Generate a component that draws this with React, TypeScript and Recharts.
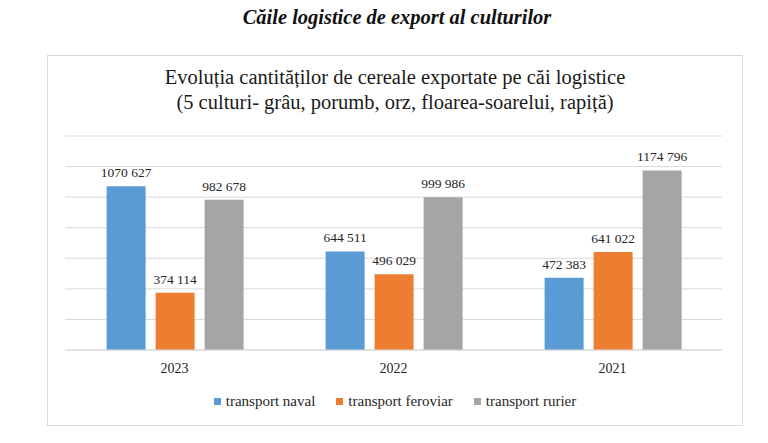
import { BarChart, Bar, XAxis, YAxis, CartesianGrid, Legend, LabelList } from 'recharts'

const years = ['2023', '2022', '2021']
const navalValues = [1070627, 644511, 472383]
const feroviarValues = [374114, 496029, 641022]
const rurierValues = [982678, 999986, 1174796]
const yTicks = [0, 200000, 400000, 600000, 800000, 1000000, 1200000, 1400000]
const seriesOrder = ['transport naval', 'transport feroviar', 'transport rurier']

const serif = '"Liberation Serif", "Times New Roman", serif'

const chartData = years.map((year, i) => ({
  year,
  naval: navalValues[i],
  feroviar: feroviarValues[i],
  rurier: rurierValues[i],
}))

// 1070627 -> "1070 627"
const fmt = (v: number) => Math.floor(v / 1000) + ' ' + String(v % 1000).padStart(3, '0')

function BarLabel(props: any) {
  const { x, y, width, value } = props
  return (
    <text
      x={x + width / 2}
      y={y - 9}
      textAnchor="middle"
      fontFamily={serif}
      fontSize={13.5}
      fill="#262626"
    >
      {fmt(value)}
    </text>
  )
}

function LegendContent({ payload }: any) {
  const items = [...(payload || [])].sort(
    (a: any, b: any) => seriesOrder.indexOf(a.value) - seriesOrder.indexOf(b.value)
  )
  return (
    <div
      style={{
        display: 'flex',
        justifyContent: 'center',
        gap: 21,
        fontFamily: serif,
        fontSize: 15,
        color: '#262626',
        lineHeight: '17px',
      }}
    >
      {items.map((p: any) => (
        <span key={p.value} style={{ display: 'flex', alignItems: 'center' }}>
          <span style={{ width: 7, height: 7, background: p.color, marginRight: 5, display: 'inline-block' }} />
          {p.value}
        </span>
      ))}
    </div>
  )
}

export default function App() {
  return (
    <div style={{ position: 'absolute', left: 0, top: 0, width: 768, height: 443, background: '#fff' }}>
      <div
        style={{
          position: 'absolute',
          top: 4,
          left: 0,
          width: 794,
          textAlign: 'center',
          fontFamily: serif,
          fontSize: 22,
          fontWeight: 'bold',
          fontStyle: 'italic',
          color: '#111',
          transform: 'scaleX(0.93)',
          transformOrigin: '397px 0',
          lineHeight: '26px',
        }}
      >
        Căile logistice de export al culturilor
      </div>
      <div
        style={{
          position: 'absolute',
          left: 47,
          top: 55,
          width: 694,
          height: 369,
          border: '1px solid #d9d9d9',
        }}
      />
      <div
        style={{
          position: 'absolute',
          top: 65,
          left: 47,
          width: 696,
          textAlign: 'center',
          fontFamily: serif,
          fontSize: 20.5,
          lineHeight: '25px',
          color: '#1a1a1a',
        }}
      >
        Evoluția cantităților de cereale exportate pe căi logistice
        <br />
        (5 culturi- grâu, porumb, orz, floarea-soarelui, rapiță)
      </div>
      <div style={{ position: 'absolute', left: 0, top: 0 }}>
        <BarChart
          width={768}
          height={443}
          data={chartData}
          margin={{ top: 136, right: 46, bottom: 63, left: 65 }}
          barCategoryGap="19%"
          barGap={10}
        >
          <CartesianGrid vertical={false} stroke="#d9d9d9" />
          <XAxis
            dataKey="year"
            height={30}
            tickLine={false}
            axisLine={{ stroke: '#d9d9d9' }}
            tickMargin={7}
            tick={{ fontFamily: serif, fontSize: 14, fill: '#262626' }}
          />
          <YAxis hide domain={[0, 1400000]} ticks={yTicks} />
          <Legend
            verticalAlign="middle"
            align="center"
            layout="horizontal"
            content={<LegendContent />}
            wrapperStyle={{ position: 'absolute', top: 393, left: 0, width: 790 }}
          />
          <Bar dataKey="naval" name="transport naval" fill="#5b9bd5" isAnimationActive={false}>
            <LabelList dataKey="naval" content={<BarLabel />} />
          </Bar>
          <Bar dataKey="feroviar" name="transport feroviar" fill="#ed7d31" isAnimationActive={false}>
            <LabelList dataKey="feroviar" content={<BarLabel />} />
          </Bar>
          <Bar dataKey="rurier" name="transport rurier" fill="#a5a5a5" isAnimationActive={false}>
            <LabelList dataKey="rurier" content={<BarLabel />} />
          </Bar>
        </BarChart>
      </div>
    </div>
  )
}
